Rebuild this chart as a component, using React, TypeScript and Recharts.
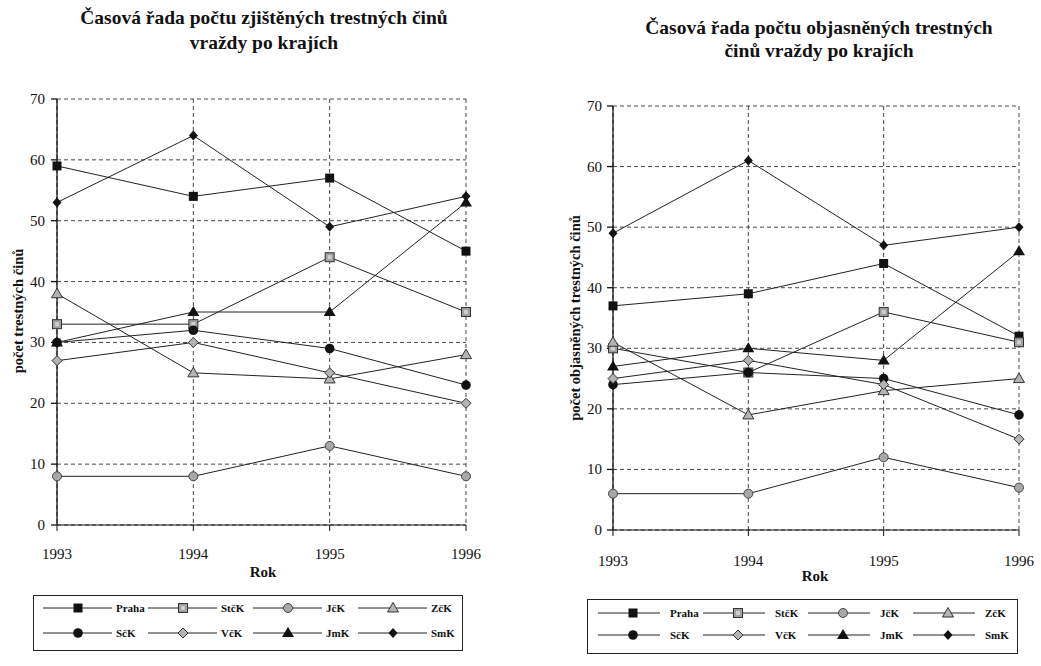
import React from "react";
import { LineChart, Line, XAxis, YAxis, CartesianGrid } from "recharts";

// ---------- data ----------
const YEARS = [1993, 1994, 1995, 1996];
const Y_TICKS = [0, 10, 20, 30, 40, 50, 60, 70];
const SERIES = ["Praha", "StčK", "JčK", "ZčK", "SčK", "VčK", "JmK", "SmK"];

// zjištěné (detected)
const zjPraha = [59, 54, 57, 45];
const zjStcK = [33, 33, 44, 35];
const zjJcK = [8, 8, 13, 8];
const zjZcK = [38, 25, 24, 28];
const zjScK = [30, 32, 29, 23];
const zjVcK = [27, 30, 25, 20];
const zjJmK = [30, 35, 35, 53];
const zjSmK = [53, 64, 49, 54];

// objasněné (solved)
const obPraha = [37, 39, 44, 32];
const obStcK = [30, 26, 36, 31];
const obJcK = [6, 6, 12, 7];
const obZcK = [31, 19, 23, 25];
const obScK = [24, 26, 25, 19];
const obVcK = [25, 28, 24, 15];
const obJmK = [27, 30, 28, 46];
const obSmK = [49, 61, 47, 50];

const TITLE_LEFT = ["Časová řada počtu zjištěných trestných činů", "vraždy po krajích"];
const TITLE_RIGHT = ["Časová řada počtu objasněných trestných", "činů vraždy po krajích"];
const YLABEL_LEFT = "počet trestných činů";
const YLABEL_RIGHT = "počet objasněných trestných činů";
const XLABEL = "Rok";

const buildRows = (cols: number[][]) =>
  YEARS.map((year, i) => {
    const row: Record<string, number> = { year };
    SERIES.forEach((s, k) => {
      row[s] = cols[k][i];
    });
    return row;
  });

const leftRows = buildRows([zjPraha, zjStcK, zjJcK, zjZcK, zjScK, zjVcK, zjJmK, zjSmK]);
const rightRows = buildRows([obPraha, obStcK, obJcK, obZcK, obScK, obVcK, obJmK, obSmK]);

// ---------- styles ----------
const SERIF = "Liberation Serif, Times New Roman, Times, serif";
const SHAPES: Record<string, string> = {
  Praha: "squareBlack",
  "StčK": "squareGrey",
  "JčK": "circleGrey",
  "ZčK": "triangleGrey",
  "SčK": "circleBlack",
  "VčK": "diamondGrey",
  JmK: "triangleBlack",
  SmK: "diamondBlack",
};

const Marker = ({ shape, cx, cy }: { shape: string; cx: number; cy: number }) => {
  switch (shape) {
    case "squareBlack":
      return <rect x={cx - 4.5} y={cy - 4.5} width={9} height={9} fill="#111" />;
    case "squareGrey":
      return (
        <g>
          <rect x={cx - 4.5} y={cy - 4.5} width={9} height={9} fill="#a0a0a0" stroke="#333" strokeWidth={1} />
          <rect x={cx - 2} y={cy - 2} width={4} height={4} fill="#cfcfcf" />
        </g>
      );
    case "circleGrey":
      return <circle cx={cx} cy={cy} r={4.5} fill="#a8a8a8" stroke="#444" strokeWidth={1} />;
    case "circleBlack":
      return <circle cx={cx} cy={cy} r={4.8} fill="#111" />;
    case "triangleGrey":
      return (
        <polygon
          points={`${cx},${cy - 5.5} ${cx + 5.5},${cy + 4} ${cx - 5.5},${cy + 4}`}
          fill="#b4b4b4"
          stroke="#333"
          strokeWidth={1}
        />
      );
    case "triangleBlack":
      return <polygon points={`${cx},${cy - 6} ${cx + 6},${cy + 4} ${cx - 6},${cy + 4}`} fill="#111" />;
    case "diamondGrey":
      return (
        <polygon
          points={`${cx},${cy - 5} ${cx + 5},${cy} ${cx},${cy + 5} ${cx - 5},${cy}`}
          fill="#b4b4b4"
          stroke="#333"
          strokeWidth={1}
        />
      );
    case "diamondBlack":
    default:
      return <polygon points={`${cx},${cy - 5} ${cx + 4.5},${cy} ${cx},${cy + 5} ${cx - 4.5},${cy}`} fill="#111" />;
  }
};

const XTick = (p: any) => (
  <text x={p.x} y={p.y} dy={11} textAnchor="middle" fontFamily={SERIF} fontSize={15} fill="#111">
    {p.payload.value}
  </text>
);

const YTick = (p: any) => (
  <text x={p.x} y={p.y} dy={5} textAnchor="end" fontFamily={SERIF} fontSize={15} fill="#111">
    {p.payload.value}
  </text>
);

type ChartCfg = {
  left: number;
  width: number;
  height: number;
  plotLeft: number;
  plotRight: number;
  plotTop: number;
  plotBottom: number;
  xTickMargin: number;
  yTickMargin: number;
};

const Chart = ({ rows, cfg }: { rows: Record<string, number>[]; cfg: ChartCfg }) => (
  <div style={{ position: "absolute", left: cfg.left, top: 0 }}>
    <LineChart
      width={cfg.width}
      height={cfg.height}
      data={rows}
      margin={{ top: cfg.plotTop, right: cfg.width - cfg.plotRight, bottom: 0, left: 0 }}
    >
      <CartesianGrid stroke="#333" strokeDasharray="4 3" strokeWidth={0.9} />
      <XAxis
        dataKey="year"
        type="number"
        domain={[1993, 1996]}
        ticks={YEARS}
        height={cfg.height - cfg.plotBottom}
        stroke="#111"
        tickLine={{ stroke: "#111" }}
        tickSize={6}
        tickMargin={cfg.xTickMargin}
        tick={<XTick />}
        allowDecimals={false}
      />
      <YAxis
        type="number"
        domain={[0, 70]}
        ticks={Y_TICKS}
        width={cfg.plotLeft}
        stroke="#111"
        strokeWidth={1.3}
        tickSize={6}
        tickMargin={cfg.yTickMargin}
        tick={<YTick />}
      />
      {SERIES.map((s) => (
        <Line
          key={s}
          dataKey={s}
          stroke="#222"
          strokeWidth={1}
          isAnimationActive={false}
          dot={(p: any) => <Marker key={`${s}-${p.index}`} shape={SHAPES[s]} cx={p.cx} cy={p.cy} />}
          activeDot={false}
        />
      ))}
    </LineChart>
  </div>
);

type LegendCfg = {
  left: number;
  top: number;
  width: number;
  height: number;
  startX: number;
  colStep: number;
  lineLen: number;
  markerOffset: number;
  labelOffset: number;
  rowY: number[];
};

const LegendBox = ({ cfg }: { cfg: LegendCfg }) => (
  <svg
    style={{ position: "absolute", left: cfg.left, top: cfg.top }}
    width={cfg.width + 2}
    height={cfg.height + 2}
  >
    <rect x={0.5} y={0.5} width={cfg.width} height={cfg.height} fill="none" stroke="#222" strokeWidth={1} />
    {SERIES.map((s, i) => {
      const col = i % 4;
      const row = Math.floor(i / 4);
      const x0 = cfg.startX + col * cfg.colStep;
      const y = cfg.rowY[row];
      return (
        <g key={s}>
          <line x1={x0} y1={y} x2={x0 + cfg.lineLen} y2={y} stroke="#222" strokeWidth={1} />
          <Marker shape={SHAPES[s]} cx={x0 + cfg.markerOffset} cy={y} />
          <text
            x={x0 + cfg.labelOffset}
            y={y + 4}
            fontFamily={SERIF}
            fontSize={11}
            fontWeight="bold"
            fill="#111"
          >
            {s}
          </text>
        </g>
      );
    })}
  </svg>
);

const Title = ({ lines, cx, top, lh }: { lines: string[]; cx: number; top: number; lh: number }) => (
  <div
    style={{
      position: "absolute",
      left: cx - 260,
      width: 520,
      top,
      textAlign: "center",
      fontFamily: SERIF,
      fontWeight: "bold",
      fontSize: 19.5,
      lineHeight: `${lh}px`,
      color: "#111",
      whiteSpace: "nowrap",
    }}
  >
    {lines.map((l) => (
      <div key={l}>{l}</div>
    ))}
  </div>
);

const VLabel = ({ text, cx, cy }: { text: string; cx: number; cy: number }) => (
  <div
    style={{
      position: "absolute",
      left: cx - 150,
      top: cy - 9,
      width: 300,
      height: 18,
      lineHeight: "18px",
      textAlign: "center",
      transform: "rotate(-90deg)",
      fontFamily: SERIF,
      fontWeight: "bold",
      fontSize: 14.5,
      color: "#111",
      whiteSpace: "nowrap",
    }}
  >
    {text}
  </div>
);

const HLabel = ({ text, cx, cy }: { text: string; cx: number; cy: number }) => (
  <div
    style={{
      position: "absolute",
      left: cx - 50,
      top: cy - 10,
      width: 100,
      lineHeight: "20px",
      textAlign: "center",
      fontFamily: SERIF,
      fontWeight: "bold",
      fontSize: 15,
      color: "#111",
    }}
  >
    {text}
  </div>
);

const leftCfg: ChartCfg = {
  left: 0,
  width: 520,
  height: 666,
  plotLeft: 57,
  plotRight: 466,
  plotTop: 99,
  plotBottom: 525,
  xTickMargin: 17,
  yTickMargin: 6,
};

const rightCfg: ChartCfg = {
  left: 520,
  width: 521,
  height: 666,
  plotLeft: 93,
  plotRight: 499,
  plotTop: 106,
  plotBottom: 530,
  xTickMargin: 19,
  yTickMargin: 5,
};

const leftLegend: LegendCfg = {
  left: 33,
  top: 595,
  width: 429,
  height: 55,
  startX: 10,
  colStep: 105,
  lineLen: 69,
  markerOffset: 35,
  labelOffset: 73,
  rowY: [13, 38],
};

const rightLegend: LegendCfg = {
  left: 587,
  top: 599,
  width: 430,
  height: 54,
  startX: 11,
  colStep: 105,
  lineLen: 62,
  markerOffset: 35,
  labelOffset: 72,
  rowY: [14, 36],
};

export default function App() {
  return (
    <div
      style={{
        position: "absolute",
        left: 0,
        top: 0,
        width: 1041,
        height: 666,
        background: "#fff",
        overflow: "hidden",
      }}
    >
      <Chart rows={leftRows} cfg={leftCfg} />
      <Chart rows={rightRows} cfg={rightCfg} />
      <Title lines={TITLE_LEFT} cx={264} top={5} lh={25} />
      <Title lines={TITLE_RIGHT} cx={819} top={16} lh={23} />
      <VLabel text={YLABEL_LEFT} cx={18} cy={311} />
      <VLabel text={YLABEL_RIGHT} cx={575} cy={318} />
      <HLabel text={XLABEL} cx={263} cy={572} />
      <HLabel text={XLABEL} cx={815} cy={576} />
      <LegendBox cfg={leftLegend} />
      <LegendBox cfg={rightLegend} />
    </div>
  );
}
